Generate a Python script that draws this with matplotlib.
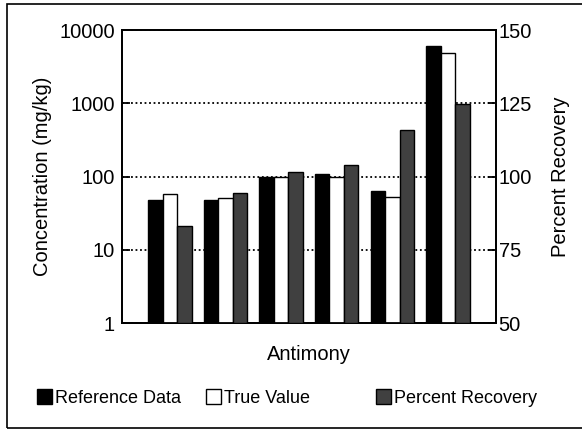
import matplotlib
matplotlib.use("Agg")
import matplotlib.pyplot as plt
from matplotlib.patches import Rectangle, Patch
from matplotlib.ticker import FixedLocator, NullLocator, FixedFormatter
import numpy as np

plt.rcParams['font.family'] = ['Liberation Sans', 'DejaVu Sans']

# values
groups = np.arange(6)
reference_data = [48, 48, 98, 108, 63, 6040]
true_value = [58, 51, 100, 100, 52, 4870]
percent_recovery = [83, 94.5, 101.4, 104.1, 116, 124.7]

conc_ticks = [1, 10, 100, 1000, 10000]
conc_labels = ["1", "10", "100", "1000", "10000"]
pct_ticks = [50, 75, 100, 125, 150]

fig = plt.figure(figsize=(5.82, 4.29), dpi=100)
fig.patches.append(Rectangle((0.012, 0.003), 0.995, 0.988, transform=fig.transFigure,
                             fill=False, edgecolor='black', linewidth=1.2))

ax = fig.add_axes([0.2096, 0.247, 0.6424, 0.683])
ax2 = ax.twinx()

w = 0.26
ax.bar(groups - w, reference_data, w, color='black', edgecolor='black', linewidth=1, zorder=3)
ax.bar(groups, true_value, w, color='white', edgecolor='black', linewidth=1, zorder=3)
ax2.bar(groups + w, np.array(percent_recovery) - 50, w, bottom=50,
        color='#404040', edgecolor='black', linewidth=1, zorder=3)

ax.set_yscale('log')
ax.set_ylim(1, 10000)
ax.yaxis.set_major_locator(FixedLocator(conc_ticks))
ax.yaxis.set_major_formatter(FixedFormatter(conc_labels))
ax.yaxis.set_minor_locator(NullLocator())
ax2.set_ylim(50, 150)
ax2.set_yticks(pct_ticks)
ax.set_xlim(-0.863, 5.863)
ax.set_xticks([])

ax.yaxis.grid(True, color='black', linestyle=(0, (1, 1.5)), linewidth=1.3, zorder=1)
ax.set_axisbelow(True)

for a in (ax, ax2):
    for s in a.spines.values():
        s.set_linewidth(1.3)
ax.tick_params(axis='y', direction='in', length=6, width=1.3, labelsize=14.5, pad=5)
ax2.tick_params(axis='y', direction='in', length=6, width=1.3, labelsize=14.5, pad=2)

ax.set_ylabel("Concentration (mg/kg)", fontsize=14.5, labelpad=5)
ax2.set_ylabel("Percent Recovery", fontsize=14.5, labelpad=14)
ax.set_xlabel("Antimony", fontsize=14.5, labelpad=16)

handles = [Patch(facecolor='black', edgecolor='black', label='Reference Data'),
           Patch(facecolor='white', edgecolor='black', label='True Value'),
           Patch(facecolor='#404040', edgecolor='black', label='Percent Recovery')]
xs = [37 / 582, 206 / 582, 376 / 582]
for h, x in zip(handles, xs):
    fig.legend(handles=[h], loc='center left', bbox_to_anchor=(x, 1 - 398 / 429),
               frameon=False, fontsize=13, handlelength=0.85, handleheight=0.85,
               handletextpad=0.15, borderpad=0, borderaxespad=0)

fig.savefig("out.png", dpi=100)
